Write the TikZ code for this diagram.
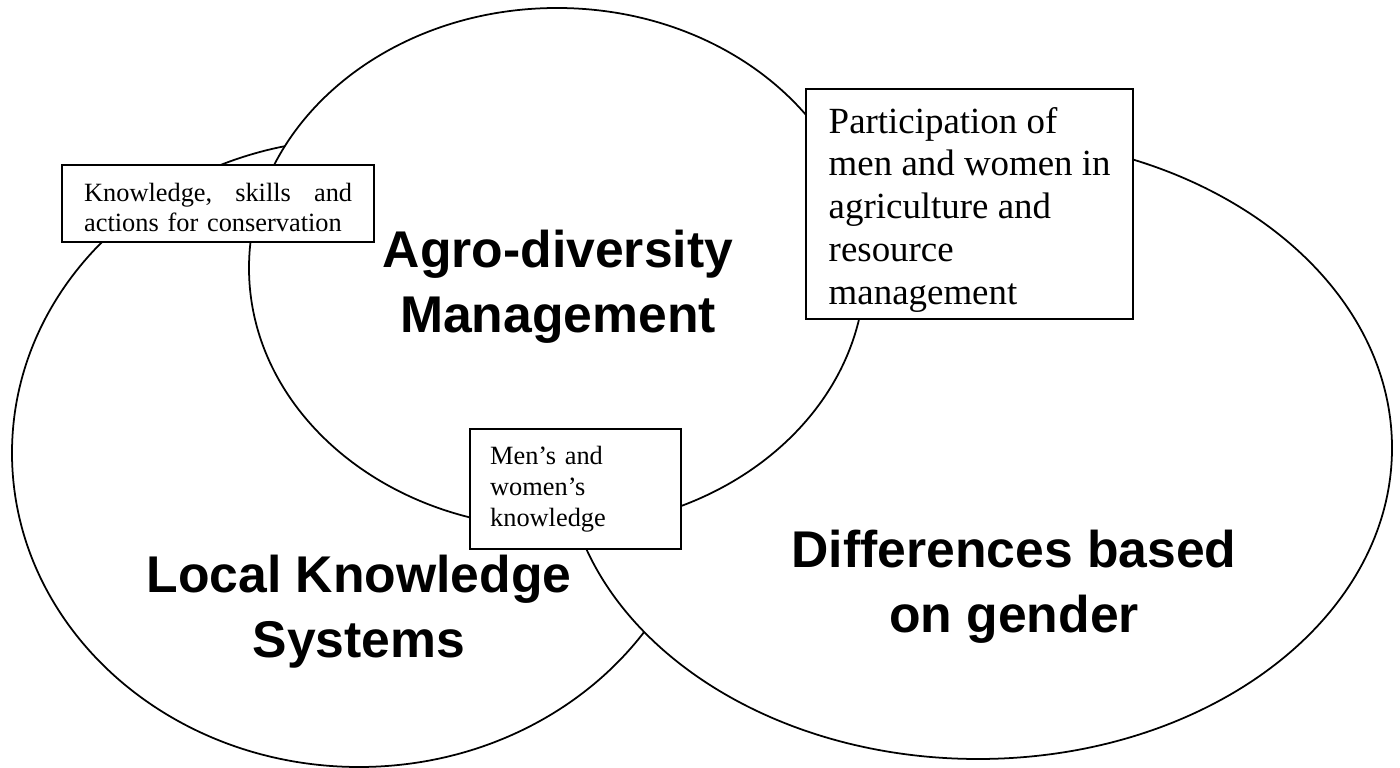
\documentclass[tikz,border=0pt]{standalone}
\usepackage{fontspec}
\setmainfont{Liberation Serif}
\setsansfont{Liberation Sans}
\begin{document}
\begin{tikzpicture}[
    zona/.style={draw, fill=white, line width=1pt},
    cuadro/.style={draw, fill=white, line width=1.3pt, anchor=north west,
      align=left, inner ysep=0pt},
    titulo/.style={font=\fontsize{29.4}{37}\selectfont\sffamily\bfseries,
      align=center, inner sep=0pt}
  ]
  \useasboundingbox (0,0) rectangle (28,15.36);
  % Elipses (de abajo hacia arriba)
  \draw[zona] (7.18,6.30) ellipse (6.94 and 6.28);
  \draw[zona] (19.56,6.40) ellipse (8.28 and 6.22);
  \draw[zona] (11.14,10.00) ellipse (6.16 and 5.20);
  % Titulos de cada zona
  \node[titulo] (agro) at (11.16,9.62) {Agro-diversity\\Management};
  \node[titulo] (local) at (7.18,3.13) {Local Knowledge\\Systems};
  \node[titulo] (genero) at (20.28,3.63) {Differences based\\on gender};
  % Cuadros de texto
  \node[cuadro, minimum width=6.24cm, minimum height=1.54cm, inner xsep=0.44cm,
    text width=5.36cm, font=\fontsize{15}{17.6}\selectfont] (conserv) at (1.22,12.08)
    {\rule{0pt}{14.8pt}Knowledge,\hfill skills\hfill and\\actions for conservation};
  \node[cuadro, minimum width=6.54cm, minimum height=4.60cm,
    font=\fontsize{21}{24.3}\selectfont] (particip) at (16.10,13.60)
    {\rule{0pt}{21pt}Participation of\\men and women in\\agriculture and\\resource\\management};
  \node[cuadro, minimum width=4.22cm, minimum height=2.40cm, inner xsep=0.40cm,
    text width=3.42cm, font=\fontsize{15}{17.6}\selectfont] (saberes) at (9.38,6.80)
    {Men's and\\women's\\knowledge};
\end{tikzpicture}
\end{document}
